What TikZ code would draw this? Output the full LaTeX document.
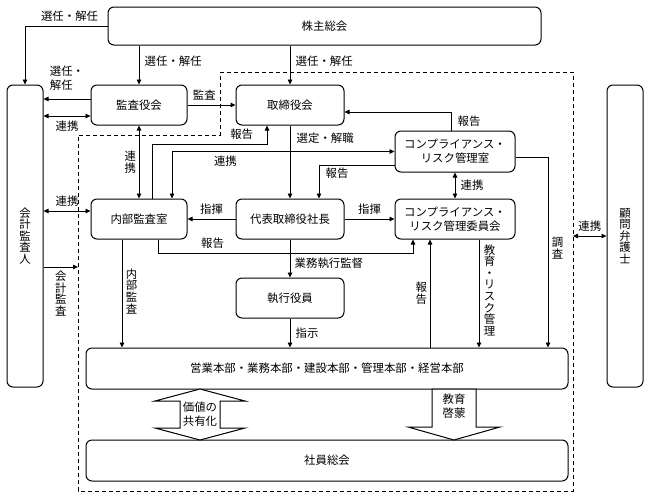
\documentclass[tikz,border=0pt]{standalone}
\usepackage{fontspec}
\setmainfont{Noto Sans CJK JP}
\usetikzlibrary{arrows.meta,positioning}
\tikzset{
    %Define standard arrow tip
    >={Triangle[length=5pt,width=4.5pt]},
    %Define style for boxes
    box/.style={
           rectangle,
           rounded corners=6pt,
           draw=black, line width=1pt,
           minimum width=108pt,
           minimum height=40pt,
           align=center},
    %Vertical (stacked) text
    tate/.style={
           align=center,
           inner sep=1.5pt,
           font=\fontsize{11.4}{11.6}\selectfont},
    % Define arrow style
    arr/.style={
           ->,
           line width=0.8pt},
    dblarr/.style={
           <->,
           line width=0.8pt},
    fatarr/.style={
           draw=black,
           line width=1pt,
           fill=white,
           line join=miter},
    region/.style={
           line width=0.9pt,
           dash pattern=on 4pt off 3pt}
}

\begin{document}
\begin{tikzpicture}[x=1pt,y=-1pt,font=\fontsize{11.4}{14}\selectfont]
  \useasboundingbox (0,0) rectangle (647,501);

  % dashed region (executive side)
  \draw[region] (220,72) -- (573,72) -- (573,491) -- (78,491) -- (78,135) -- (220,135) -- cycle;
  \coordinate (dashL) at (78,267);
  \coordinate (dashR) at (573,236);

  \node[box, minimum width=433pt, minimum height=38pt] (kabu) at (324.5,26) {株主総会};
  \node[box, minimum width=36pt, minimum height=302pt, tate] (kaikei) at (25,236) {会\\計\\監\\査\\人};
  \node[box, minimum width=36pt, minimum height=302pt, tate] (bengo) at (625,236) {顧\\問\\弁\\護\\士};

  \node[box, minimum width=96pt] (kansa) at (139,105) {監査役会};
  \node[box, right=48pt of kansa] (tori) {取締役会};
  \node[box, below=73pt of kansa, minimum width=96pt] (naibu) {内部監査室};
  \node[box, below=73pt of tori] (daihyo) {代表取締役社長};
  \node[box, right=50pt of daihyo, minimum width=120pt] (crmiin) {コンプライアンス・\\リスク管理委員会};
  \node[box, above=26pt of crmiin, minimum width=120pt, minimum height=41pt] (crmshitsu) {コンプライアンス・\\リスク管理室};
  \node[box, below=38pt of daihyo] (shikko) {執行役員};
  \node[box, minimum width=482pt, minimum height=41pt] (honbu) at (327,368.5) {営業本部・業務本部・建設本部・管理本部・経営本部};
  \node[box, minimum width=482pt, minimum height=41pt] (shain) at (327,460.5) {社員総会};

  % shareholders
  \draw[arr] (kabu.west) -| (kaikei.north)
      node[pos=0.23, above=1pt] {選任・解任};
  \draw[arr] (kabu.south -| kansa.north) -- (kansa.north)
      node[pos=0.4, right=2pt] {選任・解任};
  \draw[arr] (kabu.south -| tori.north) -- (tori.north)
      node[pos=0.4, right=2pt] {選任・解任};

  % auditors
  \draw[arr] ([yshift=6pt]kansa.west) -- ([yshift=6pt]kansa.west -| kaikei.east)
      node[midway, above=5pt, align=left] {選任・\\解任};
  \draw[dblarr] ([yshift=-11pt]kansa.west) -- ([yshift=-11pt]kansa.west -| kaikei.east)
      node[midway, below=1pt] {連携};
  \draw[arr] (kansa.east) -- (tori.west)
      node[pos=0.35, above=1pt] {監査};
  \draw[dblarr] (kansa.south) -- (naibu.north)
      node[midway, left=1pt, tate] {連\\携};
  \draw[dblarr] ([yshift=8pt]naibu.west) -- ([yshift=8pt]naibu.west -| kaikei.east)
      node[midway, above=1pt] {連携};
  \draw[arr] ([yshift=-31pt]kaikei.east) -- (dashL)
      node[midway, below=2pt, tate] {会\\計\\監\\査};

  % internal audit
  \draw[arr] ([xshift=13pt]naibu.north) -- ++(0,-54) -| ([xshift=-23pt]tori.south)
      node[pos=0.39, above=1pt] {報告};
  \draw[dblarr] ([xshift=33pt]naibu.north) |- (crmshitsu.west)
      node[pos=0.62, below=1pt] {連携};
  \draw[arr] ([xshift=19pt]naibu.south) -- ++(0,14) -| ([xshift=-42pt]crmiin.south)
      node[pos=0.107, above=1pt] {報告};
  \draw[arr] ([xshift=-17pt]naibu.south) -- ([xshift=-17pt]naibu.south |- honbu.north)
      node[pos=0.48, right=2pt, tate] {内\\部\\監\\査};

  % board and president
  \draw[arr] (tori.south) -- (daihyo.north)
      node[pos=0.18, right=3pt] {選定・解職};
  \draw[arr] (daihyo.west) -- (naibu.east)
      node[midway, above=1pt] {指揮};
  \draw[arr] (daihyo.east) -- (crmiin.west)
      node[midway, above=1pt] {指揮};
  \draw[arr] (daihyo.south) -- (shikko.north)
      node[pos=0.62, right=1pt] {業務執行監督};
  \draw[arr] (shikko.south) -- (shikko.south |- honbu.north)
      node[midway, right=2pt] {指示};

  % compliance
  \draw[arr] ([xshift=-4pt]crmshitsu.north) |- ([yshift=-7pt]tori.east)
      node[pos=0.25, right=3pt] {報告};
  \draw[arr] ([yshift=-13.5pt]crmshitsu.west) -| ([xshift=29pt]daihyo.north)
      node[pos=0.62, right=3pt] {報告};
  \draw[dblarr] (crmshitsu.south) -- (crmiin.north)
      node[midway, right=2pt] {連携};
  \draw[arr] ([yshift=-5.5pt]crmshitsu.east) -| ([xshift=221pt]honbu.north)
      node[pos=0.74, right=2pt, tate] {調\\査};
  \draw[arr] ([xshift=-25pt]crmiin.south |- honbu.north) -- ([xshift=-25pt]crmiin.south)
      node[midway, left=1pt, tate] {報\\告};
  \draw[arr] ([xshift=24pt]crmiin.south) -- ([xshift=24pt]crmiin.south |- honbu.north)
      node[pos=0.47, right=3pt, tate] {教\\育\\・\\リ\\ス\\ク\\管\\理};

  % legal counsel
  \draw[dblarr] (bengo.west) -- (dashR)
      node[midway, above=1pt] {連携};

  % wide arrows between divisions and staff
  \draw[fatarr] (200,389) -- (245,401) -- (220,401) -- (220,428) -- (245,428) -- (200,440)
      -- (155,428) -- (180,428) -- (180,401) -- (155,401) -- cycle;
  \node[align=center, inner sep=0pt] (kachi) at (200,414.5) {価値の\\共有化};
  \draw[fatarr] (432,389) -- (476,389) -- (476,427) -- (500,427) -- (454,440) -- (408,427)
      -- (432,427) -- cycle;
  \node[align=center, inner sep=0pt] (keimo) at (454,406) {教育\\啓蒙};
\end{tikzpicture}
\end{document}
